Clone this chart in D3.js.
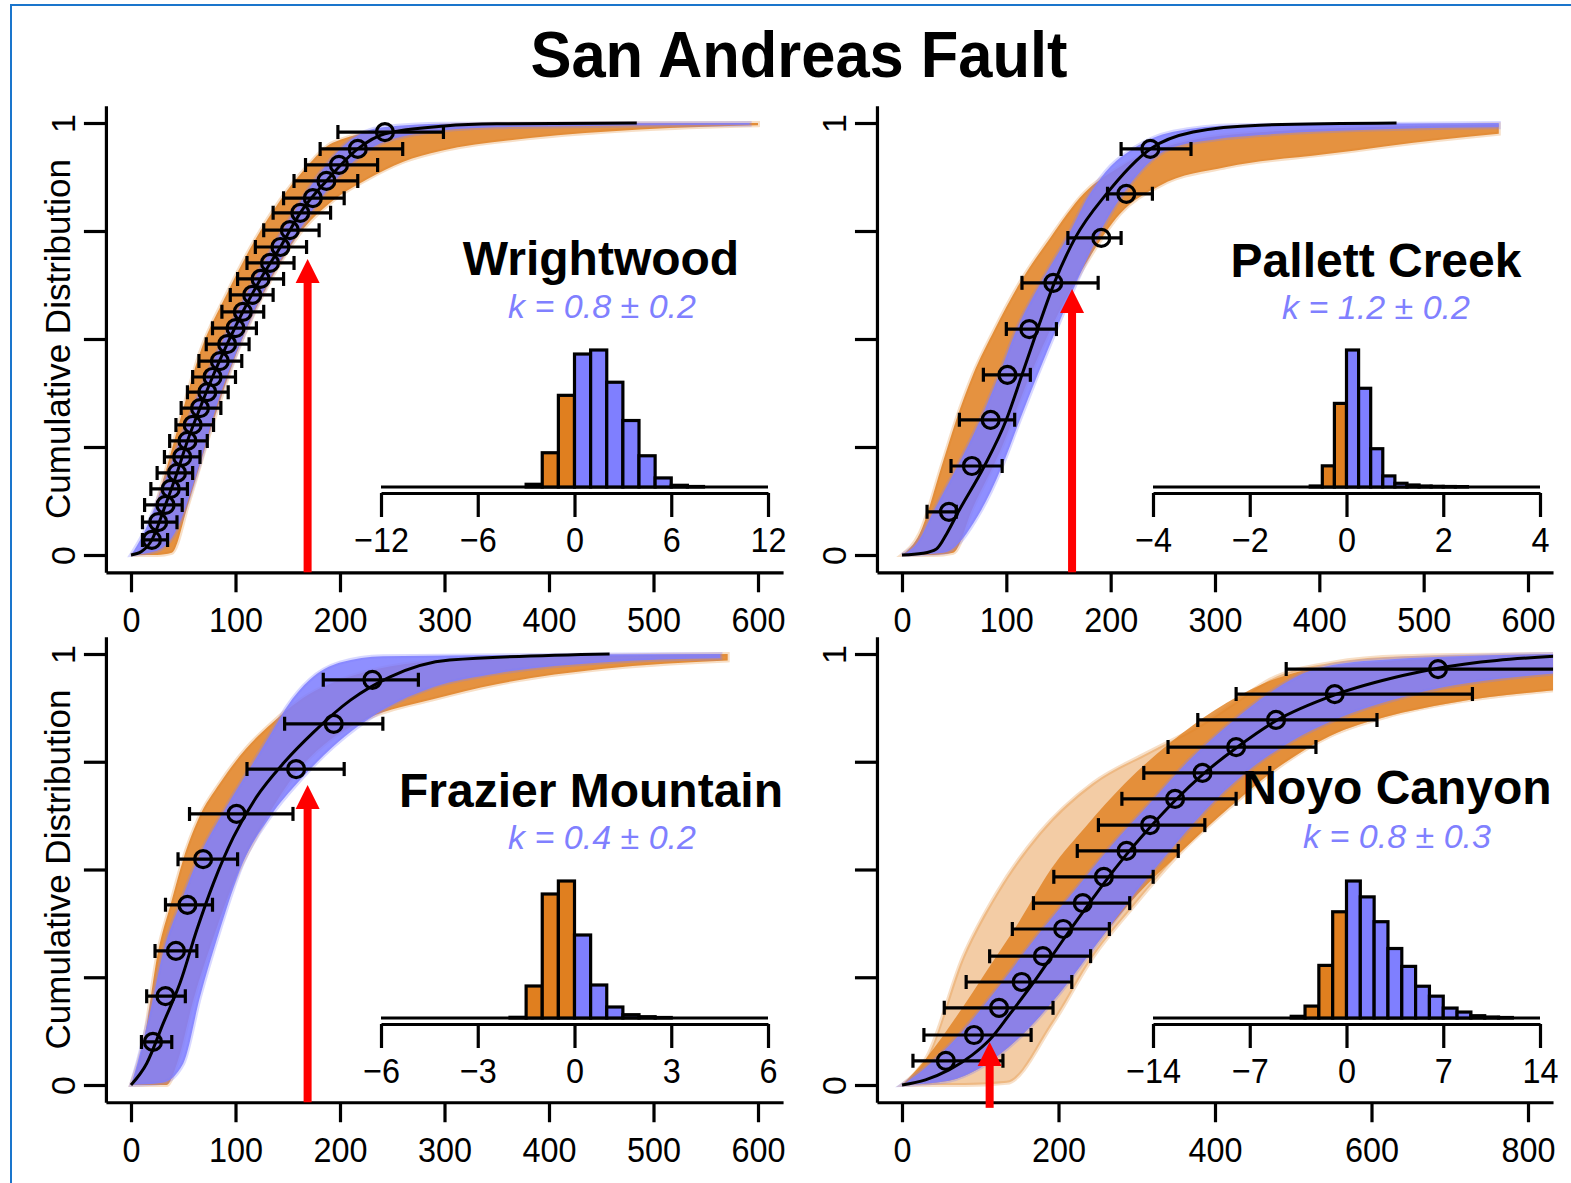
<!DOCTYPE html>
<html>
<head>
<meta charset="utf-8">
<script src="https://cdn.jsdelivr.net/npm/d3@7"></script>
<style>
  body { margin: 0; background: #fff; }
  svg { display: block; font-family: "Liberation Sans", Arial, Helvetica, sans-serif; }
</style>
</head>
<body>
<svg id="chart" width="1571" height="1183"></svg>
<script>
// San Andreas Fault - cumulative distributions with k histograms

const siteNames = ['Wrightwood', 'Pallett Creek', 'Frazier Mountain', 'Noyo Canyon'];
const kLabels = ['k = 0.8 ± 0.2', 'k = 1.2 ± 0.2', 'k = 0.4 ± 0.2', 'k = 0.8 ± 0.3'];
const xMaxes = [600, 600, 600, 800];
const xTickSets = [
  [0, 100, 200, 300, 400, 500, 600],
  [0, 100, 200, 300, 400, 500, 600],
  [0, 100, 200, 300, 400, 500, 600],
  [0, 200, 400, 600, 800]
];
const yTicks = [0, 0.25, 0.5, 0.75, 1];
const histRanges = [[-12, 12], [-4, 4], [-6, 6], [-14, 14]];
const histTickSets = [[-12, -6, 0, 6, 12], [-4, -2, 0, 2, 4], [-6, -3, 0, 3, 6], [-14, -7, 0, 7, 14]];
const histBinWidths = [1, 0.25, 0.5, 1];
const arrowX = [169, 163, 169, 112];
const arrowTip = [0.685, 0.616, 0.696, 0.10];
const arrowBase = [-0.04, -0.04, -0.04, -0.053];

// points: [x, cumulative, low, high]
const wrightwoodPoints = [
  [20, 0.035, 11, 35], [26, 0.076, 11, 44], [33, 0.116, 13, 49], [38, 0.153, 19, 54],
  [44, 0.190, 25, 59], [49, 0.227, 32, 66], [54, 0.264, 37, 73], [59, 0.301, 43, 79],
  [66, 0.340, 48, 86], [73, 0.377, 54, 93], [78, 0.412, 59, 100], [85, 0.449, 65, 106],
  [92, 0.488, 72, 113], [100, 0.525, 78, 120], [107, 0.563, 87, 127], [116, 0.602, 95, 136],
  [124, 0.639, 102, 146], [133, 0.676, 111, 156], [143, 0.713, 119, 168], [152, 0.752, 127, 180],
  [162, 0.792, 136, 191], [174, 0.826, 146, 204], [187, 0.866, 156, 217], [199, 0.903, 167, 236],
  [217, 0.940, 181, 260], [243, 0.979, 198, 299]
];
const wrightwoodFit = [
  [0, 0], [10, 0.008], [20, 0.035], [33, 0.116], [44, 0.19], [54, 0.264], [66, 0.34], [78, 0.412],
  [92, 0.488], [107, 0.563], [124, 0.639], [143, 0.713], [162, 0.792], [187, 0.866], [217, 0.94],
  [243, 0.975], [300, 0.993], [350, 0.998], [484, 1.0]
];
const wrightwoodOrangeUpper = [
  [0, 0], [10, 0.015], [30, 0.167], [47, 0.313], [66, 0.468], [92, 0.606], [117, 0.722], [143, 0.822],
  [168, 0.898], [193, 0.954], [257, 0.988], [350, 0.998], [600, 1.0]
];
const wrightwoodOrangeLower = [
  [0, 0], [25, 0], [39, 0.005], [55, 0.12], [75, 0.28], [100, 0.46], [130, 0.62], [160, 0.74],
  [193, 0.82], [226, 0.87], [260, 0.91], [296, 0.935], [382, 0.965], [487, 0.985], [600, 0.995]
];
const wrightwoodBlueUpper = [
  [0, 0], [12, 0.05], [28, 0.143], [47, 0.266], [76, 0.435], [104, 0.574], [130, 0.69], [155, 0.79],
  [178, 0.875], [207, 0.955], [241, 0.99], [300, 0.998], [592, 1.0]
];
const wrightwoodBlueLower = [
  [0, 0], [25, 0.01], [44, 0.06], [63, 0.19], [82, 0.345], [107, 0.505], [133, 0.64], [162, 0.755],
  [190, 0.852], [226, 0.935], [274, 0.975], [350, 0.99], [592, 0.996]
];
// histogram bins: [left edge, count]
const wrightwoodHist = [
  [-3, 2.7], [-2, 34], [-1, 91], [0, 132], [1, 136], [2, 104], [3, 66], [4, 31], [5, 9], [6, 1.7], [7, 0.5]
];

const pallettPoints = [
  [45, 0.100, 24, 52], [67, 0.206, 47, 96], [85, 0.313, 55, 108], [101, 0.417, 78, 123],
  [122, 0.523, 100, 148], [145, 0.630, 115, 188], [191, 0.734, 159, 210], [215, 0.836, 197, 240],
  [238, 0.940, 210, 277]
];
const pallettFit = [
  [0, 0], [20, 0.004], [33, 0.014], [43, 0.05], [54, 0.10], [79, 0.206], [100, 0.313], [115, 0.417],
  [130, 0.523], [146, 0.63], [166, 0.734], [196, 0.836], [238, 0.94], [279, 0.979], [343, 0.995], [474, 1.0]
];
const pallettOrangeUpper = [
  [0, 0], [17, 0.05], [38, 0.206], [52, 0.313], [68, 0.417], [89, 0.523], [113, 0.63], [142, 0.734],
  [174, 0.836], [210, 0.9], [260, 0.95], [350, 0.98], [572, 0.997]
];
const pallettOrangeLower = [
  [0, 0], [30, 0], [49, 0.005], [68, 0.11], [94, 0.24], [120, 0.40], [150, 0.56], [180, 0.69],
  [209, 0.79], [247, 0.855], [311, 0.898], [407, 0.928], [518, 0.962], [572, 0.975]
];
const pallettBlueUpper = [
  [0, 0], [15, 0.03], [30, 0.1], [52, 0.2], [75, 0.313], [93, 0.417], [110, 0.523], [133, 0.63],
  [158, 0.734], [180, 0.836], [200, 0.9], [221, 0.94], [260, 0.98], [320, 0.995], [572, 1.0]
];
const pallettBlueLower = [
  [0, 0], [40, 0.005], [75, 0.1], [95, 0.2], [113, 0.313], [130, 0.417], [148, 0.523], [167, 0.63],
  [187, 0.734], [212, 0.836], [256, 0.94], [300, 0.962], [343, 0.972], [470, 0.986], [572, 0.99]
];
const pallettHist = [
  [-0.75, 1], [-0.5, 21], [-0.25, 83], [0, 136], [0.25, 98], [0.5, 38], [0.75, 11], [1, 3.7],
  [1.25, 2], [1.5, 1], [1.75, 0.7], [2, 0.5], [2.25, 0.4]
];

const frazierPoints = [
  [21, 0.100, 10, 39], [33, 0.206, 15, 52], [43, 0.311, 23, 63], [54, 0.418, 33, 78],
  [69, 0.524, 45, 102], [101, 0.629, 56, 155], [158, 0.733, 111, 204], [194, 0.838, 147, 241],
  [231, 0.940, 184, 275]
];
const frazierFit = [
  [0, 0], [15, 0.05], [31, 0.144], [47, 0.237], [63, 0.36], [79, 0.469], [98, 0.575], [120, 0.668],
  [146, 0.747], [174, 0.817], [210, 0.893], [248, 0.947], [305, 0.986], [458, 1.0]
];
const frazierOrangeUpper = [
  [0, 0], [12, 0.1], [26, 0.311], [38, 0.42], [50, 0.524], [65, 0.62], [85, 0.70], [110, 0.78],
  [135, 0.84], [160, 0.89], [200, 0.94], [300, 0.985], [571, 1.0]
];
const frazierOrangeLower = [
  [0, 0], [34, 0], [44, 0.05], [60, 0.2], [80, 0.35], [100, 0.48], [130, 0.62], [160, 0.73],
  [190, 0.8], [226, 0.85], [289, 0.895], [350, 0.93], [450, 0.965], [571, 0.985]
];
const frazierBlueUpper = [
  [0, 0], [6, 0.05], [18, 0.167], [31, 0.311], [47, 0.42], [64, 0.524], [90, 0.64], [115, 0.74],
  [135, 0.82], [149, 0.877], [171, 0.94], [200, 0.98], [241, 0.995], [564, 1.0]
];
const frazierBlueLower = [
  [0, 0], [30, 0.005], [50, 0.05], [66, 0.204], [85, 0.36], [107, 0.515], [133, 0.622], [162, 0.708],
  [193, 0.784], [241, 0.87], [289, 0.923], [350, 0.955], [450, 0.98], [564, 0.99]
];
const frazierHist = [
  [-2, 0.7], [-1.5, 32], [-1, 124], [-0.5, 137], [0, 83], [0.5, 33], [1, 11], [1.5, 3.3], [2, 1.3], [2.5, 0.5]
];

const noyoPoints = [
  [56, 0.056, 14, 129], [92, 0.116, 28, 165], [124, 0.179, 54, 193], [153, 0.239, 82, 217],
  [180, 0.299, 112, 241], [206, 0.362, 141, 265], [231, 0.422, 168, 291], [258, 0.483, 194, 321],
  [287, 0.543, 224, 353], [317, 0.603, 251, 387], [349, 0.664, 281, 427], [384, 0.724, 309, 470],
  [427, 0.784, 340, 529], [478, 0.847, 378, 607], [553, 0.907, 427, 729], [685, 0.965, 491, 900]
];
const noyoFit = [
  [0, 0], [30, 0.012], [60, 0.035], [90, 0.07], [112, 0.105], [138, 0.165], [167, 0.235], [190, 0.295],
  [213, 0.355], [236, 0.413], [258, 0.468], [287, 0.535], [317, 0.598], [349, 0.66], [384, 0.72],
  [427, 0.782], [478, 0.845], [553, 0.905], [640, 0.95], [685, 0.967], [835, 0.995]
];
const noyoOrangeUpper = [
  [0, 0], [32, 0.065], [78, 0.297], [121, 0.445], [176, 0.585], [244, 0.70], [313, 0.77], [377, 0.83],
  [428, 0.89], [470, 0.94], [550, 0.98], [640, 0.995], [835, 1.0]
];
const noyoOrangeLower = [
  [0, 0], [80, 0], [134, 0.005], [193, 0.144], [244, 0.297], [295, 0.413], [355, 0.538], [419, 0.645],
  [483, 0.74], [547, 0.81], [620, 0.855], [700, 0.886], [835, 0.916]
];
// denser core of the orange curves
const noyoOrangeCoreUpper = [
  [0, 0], [30, 0.06], [70, 0.16], [110, 0.27], [150, 0.38], [190, 0.5], [235, 0.6], [285, 0.7],
  [340, 0.79], [400, 0.87], [460, 0.93], [540, 0.97], [835, 1.0]
];
const noyoOrangeCoreLower = [
  [0, 0], [60, 0.01], [100, 0.04], [150, 0.11], [200, 0.21], [250, 0.33], [300, 0.44], [355, 0.538],
  [419, 0.645], [483, 0.74], [547, 0.81], [620, 0.855], [700, 0.886], [835, 0.916]
];
const noyoBlueUpper = [
  [0, 0], [30, 0.04], [70, 0.11], [120, 0.22], [170, 0.34], [220, 0.45], [265, 0.55], [315, 0.65],
  [365, 0.75], [420, 0.84], [470, 0.91], [520, 0.96], [600, 0.985], [835, 1.0]
];
const noyoBlueLower = [
  [0, 0], [60, 0.01], [100, 0.04], [150, 0.11], [200, 0.21], [250, 0.33], [300, 0.45], [350, 0.56],
  [400, 0.66], [450, 0.74], [500, 0.80], [550, 0.845], [650, 0.905], [835, 0.955]
];
const noyoHist = [
  [-4, 1.7], [-3, 12], [-2, 53], [-1, 107], [0, 138], [1, 122], [2, 97], [3, 70], [4, 52], [5, 32],
  [6, 22], [7, 10], [8, 6], [9, 2.3], [10, 1], [11, 0.5]
];

const sitePoints = [wrightwoodPoints, pallettPoints, frazierPoints, noyoPoints];
const siteFits = [wrightwoodFit, pallettFit, frazierFit, noyoFit];
const orangeBands = [
  [wrightwoodOrangeUpper, wrightwoodOrangeLower], [pallettOrangeUpper, pallettOrangeLower],
  [frazierOrangeUpper, frazierOrangeLower], [noyoOrangeUpper, noyoOrangeLower]
];
const orangeCores = [null, null, null, [noyoOrangeCoreUpper, noyoOrangeCoreLower]];
const blueBands = [
  [wrightwoodBlueUpper, wrightwoodBlueLower], [pallettBlueUpper, pallettBlueLower],
  [frazierBlueUpper, frazierBlueLower], [noyoBlueUpper, noyoBlueLower]
];
const siteHists = [wrightwoodHist, pallettHist, frazierHist, noyoHist];

// Layout of each panel (pixels)
const layout = [
  { xPx: [131, 758], yPx: [555, 123], hx: [381, 768], hBase: 487, hAxis: 493, name: [601, 275], kPos: [602, 318], yTitle: true },
  { xPx: [902, 1528], yPx: [555, 123], hx: [1153, 1540], hBase: 487, hAxis: 493, name: [1376, 277], kPos: [1376, 319], yTitle: false },
  { xPx: [131, 758], yPx: [1085, 654], hx: [381, 768], hBase: 1018, hAxis: 1024, name: [591, 807], kPos: [602, 849], yTitle: true },
  { xPx: [902, 1528], yPx: [1085, 654], hx: [1153, 1540], hBase: 1018, hAxis: 1024, name: [1397, 804], kPos: [1397, 848], yTitle: false }
];

const ORANGE = '#e07f1f';
const BLUE = '#7f7fff';
const KBLUE = '#8080ff';
const SW = 3.2;
const minus = d => d < 0 ? '\u2212' + Math.abs(d) : String(d);

const svg = d3.select('#chart');

// Outer frame
svg.append('rect')
  .attr('x', 11).attr('y', 5)
  .attr('width', 1600).attr('height', 1200)
  .attr('fill', 'none')
  .attr('stroke', '#1a75cc')
  .attr('stroke-width', 2);

// Title
svg.append('text')
  .attr('transform', 'translate(799,77) scale(0.96,1)')
  .attr('text-anchor', 'middle')
  .style('font-size', '64px')
  .style('font-weight', 'bold')
  .text('San Andreas Fault');

function drawPanel(i) {
  const L = layout[i];
  const xMax = xMaxes[i];
  const x = d3.scaleLinear().domain([0, xMax]).range(L.xPx);
  const y = d3.scaleLinear().domain([0, 1]).range(L.yPx);
  const xLo = -0.04 * xMax, xHi = 1.04 * xMax;
  const yLo = -0.04, yHi = 1.04;

  const g = svg.append('g');

  // clip to plot region
  g.append('clipPath').attr('id', 'clip' + i)
    .append('rect')
    .attr('x', x(xLo)).attr('y', y(yHi))
    .attr('width', x(xHi) - x(xLo))
    .attr('height', y(yLo) - y(yHi));

  const plot = g.append('g').attr('clip-path', `url(#clip${i})`);

  const edge = d3.line().x(d => x(d[0])).y(d => y(d[1])).curve(d3.curveMonotoneX);
  const bandPath = ([upper, lower]) =>
    edge(upper) + 'L' + edge(lower.slice().reverse()).slice(1) + 'Z';

  // orange and blue families of curves
  plot.append('path')
    .attr('d', bandPath(orangeBands[i]))
    .attr('fill', ORANGE).attr('fill-opacity', orangeCores[i] ? 0.4 : 0.85)
    .attr('stroke', ORANGE).attr('stroke-opacity', 0.25).attr('stroke-width', 4);

  if (orangeCores[i]) {
    plot.append('path')
      .attr('d', bandPath(orangeCores[i]))
      .attr('fill', ORANGE).attr('fill-opacity', 0.8);
  }

  plot.append('path')
    .attr('d', bandPath(blueBands[i]))
    .attr('fill', BLUE).attr('fill-opacity', 0.88)
    .attr('stroke', BLUE).attr('stroke-opacity', 0.3).attr('stroke-width', 4);

  // fitted curve
  plot.append('path')
    .attr('d', edge(siteFits[i]))
    .attr('fill', 'none')
    .attr('stroke', '#000')
    .attr('stroke-width', 3);

  // error bars
  const pts = plot.selectAll('.pt').data(sitePoints[i]).enter().append('g').attr('class', 'pt');
  pts.append('line')
    .attr('x1', d => x(d[2])).attr('x2', d => x(d[3]))
    .attr('y1', d => y(d[1])).attr('y2', d => y(d[1]))
    .attr('stroke', '#000').attr('stroke-width', SW);
  pts.append('line')
    .attr('x1', d => x(d[2])).attr('x2', d => x(d[2]))
    .attr('y1', d => y(d[1]) - 7).attr('y2', d => y(d[1]) + 7)
    .attr('stroke', '#000').attr('stroke-width', SW);
  pts.append('line')
    .attr('x1', d => x(d[3])).attr('x2', d => x(d[3]))
    .attr('y1', d => y(d[1]) - 7).attr('y2', d => y(d[1]) + 7)
    .attr('stroke', '#000').attr('stroke-width', SW);
  pts.append('circle')
    .attr('cx', d => x(d[0])).attr('cy', d => y(d[1]))
    .attr('r', 8.5)
    .attr('fill', 'none')
    .attr('stroke', '#000').attr('stroke-width', SW);

  // axes
  const xa = d3.scaleLinear().domain([xLo, xHi]).range([x(xLo), x(xHi)]);
  const ya = d3.scaleLinear().domain([yLo, yHi]).range([y(yLo), y(yHi)]);

  const xAxis = g.append('g')
    .attr('transform', `translate(0,${y(yLo)})`)
    .call(d3.axisBottom(xa).tickValues(xTickSets[i]).tickSize(20).tickSizeOuter(0).tickFormat(d3.format('d')));
  xAxis.selectAll('text')
    .attr('y', null).attr('dy', null)
    .attr('transform', 'translate(0,60) scale(0.9,1)')
    .style('font-size', '36px')
    .style('fill', '#000');

  const yAxis = g.append('g')
    .attr('transform', `translate(${x(xLo)},0)`)
    .call(d3.axisLeft(ya).tickValues(yTicks).tickSize(22).tickSizeOuter(0)
      .tickFormat(d => (d === 0 || d === 1) ? String(d) : ''));
  yAxis.selectAll('text')
    .attr('x', null).attr('dy', null)
    .attr('text-anchor', 'middle')
    .attr('transform', 'translate(-31,0) rotate(-90)')
    .style('font-size', '34px')
    .style('fill', '#000');

  g.selectAll('.domain, .tick line').attr('stroke', '#000').attr('stroke-width', SW);

  if (L.yTitle) {
    g.append('text')
      .attr('transform', `translate(70,${(y(0) + y(1)) / 2}) rotate(-90)`)
      .attr('text-anchor', 'middle')
      .style('font-size', '35px')
      .text('Cumulative Distribution');
  }

  // inset histogram
  const w = histBinWidths[i];
  const xh = d3.scaleLinear().domain(histRanges[i]).range(L.hx);
  const yh = d3.scaleLinear().domain([0, d3.max(siteHists[i], d => d[1])]).range([L.hBase, L.hBase - 137]);

  g.append('line')
    .attr('x1', L.hx[0]).attr('x2', L.hx[1])
    .attr('y1', L.hBase).attr('y2', L.hBase)
    .attr('stroke', '#000').attr('stroke-width', SW);

  g.selectAll('.bar').data(siteHists[i]).enter().append('rect')
    .attr('class', 'bar')
    .attr('x', d => xh(d[0]))
    .attr('width', d => xh(d[0] + w) - xh(d[0]))
    .attr('y', d => yh(d[1]))
    .attr('height', d => L.hBase - yh(d[1]))
    .attr('fill', d => d[0] < 0 ? ORANGE : BLUE)
    .attr('stroke', '#000')
    .attr('stroke-width', SW);

  const hAxis = g.append('g')
    .attr('transform', `translate(0,${L.hAxis})`)
    .call(d3.axisBottom(xh).tickValues(histTickSets[i]).tickSize(24).tickSizeOuter(0).tickFormat(minus));
  hAxis.selectAll('.domain, .tick line').attr('stroke', '#000').attr('stroke-width', SW);
  hAxis.selectAll('text')
    .attr('y', null).attr('dy', null)
    .attr('transform', 'translate(0,59) scale(0.9,1)')
    .style('font-size', '36px')
    .style('fill', '#000');

  // site name and k estimate
  g.append('text')
    .attr('x', L.name[0]).attr('y', L.name[1])
    .attr('text-anchor', 'middle')
    .style('font-size', '48px')
    .style('font-weight', 'bold')
    .text(siteNames[i]);

  g.append('text')
    .attr('x', L.kPos[0]).attr('y', L.kPos[1])
    .attr('text-anchor', 'middle')
    .style('font-size', '34px')
    .style('font-style', 'italic')
    .style('fill', KBLUE)
    .text(kLabels[i]);

  // red arrow
  const ax = x(arrowX[i]);
  const tip = y(arrowTip[i]);
  g.append('rect')
    .attr('x', ax - 4).attr('width', 8)
    .attr('y', tip + 22).attr('height', y(arrowBase[i]) - tip - 22)
    .attr('fill', '#ff0000');
  g.append('path')
    .attr('d', `M${ax},${tip}L${ax + 12},${tip + 24}L${ax - 12},${tip + 24}Z`)
    .attr('fill', '#ff0000');
}

[0, 1, 2, 3].forEach(drawPanel);
</script>
</body>
</html>
